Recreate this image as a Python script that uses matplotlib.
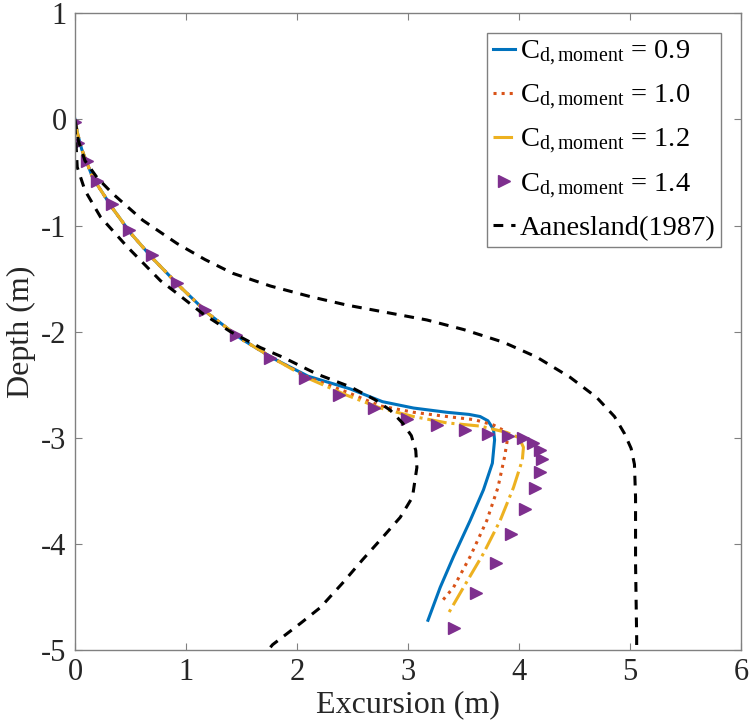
import matplotlib
matplotlib.use("Agg")
import matplotlib.pyplot as plt

plt.rcParams['font.family'] = ['Liberation Serif', 'DejaVu Serif']
plt.rcParams['mathtext.fontset'] = 'custom'
plt.rcParams['mathtext.rm'] = 'Liberation Serif'
plt.rcParams['mathtext.it'] = 'Liberation Serif'
plt.rcParams['axes.unicode_minus'] = False

# Cd = 0.9
x09 = [0, 0.02, 0.06, 0.16, 0.34, 0.50, 0.70, 0.95, 1.20, 1.50, 1.80, 2.10, 2.48, 2.77, 3.05, 3.35, 3.55, 3.65, 3.72, 3.77, 3.78, 3.76, 3.68, 3.56, 3.41, 3.29, 3.18]
d09 = [0, -0.12, -0.28, -0.55, -0.84, -1.07, -1.31, -1.58, -1.83, -2.07, -2.26, -2.42, -2.54, -2.66, -2.72, -2.76, -2.78, -2.80, -2.84, -2.92, -3.02, -3.24, -3.49, -3.78, -4.12, -4.41, -4.72]
# Cd = 1.0
x10 = [0, 0.02, 0.06, 0.16, 0.34, 0.50, 0.70, 0.95, 1.20, 1.50, 1.80, 2.10, 2.45, 2.75, 3.05, 3.35, 3.60, 3.77, 3.86, 3.90, 3.87, 3.81, 3.71, 3.56, 3.41, 3.29]
d10 = [0, -0.12, -0.28, -0.55, -0.84, -1.07, -1.31, -1.58, -1.83, -2.07, -2.26, -2.43, -2.57, -2.70, -2.76, -2.80, -2.83, -2.88, -2.93, -2.99, -3.18, -3.47, -3.78, -4.12, -4.41, -4.56]
# Cd = 1.2
x12 = [0, 0.02, 0.06, 0.16, 0.34, 0.50, 0.70, 0.95, 1.20, 1.50, 1.80, 2.10, 2.45, 2.75, 3.05, 3.35, 3.65, 3.89, 4.00, 4.04, 4.03, 3.95, 3.83, 3.68, 3.50, 3.35]
d12 = [0, -0.12, -0.28, -0.55, -0.84, -1.07, -1.31, -1.58, -1.83, -2.07, -2.26, -2.44, -2.60, -2.72, -2.80, -2.86, -2.89, -2.95, -3.00, -3.09, -3.21, -3.47, -3.78, -4.09, -4.41, -4.68]
# Cd = 1.4 (markers)
x14 = [0.0, 0.03, 0.11, 0.20, 0.33, 0.49, 0.69, 0.92, 1.17, 1.45, 1.76, 2.07, 2.38, 2.69, 2.99, 3.26, 3.51, 3.72, 3.90, 4.04, 4.13, 4.19, 4.21, 4.19, 4.14, 4.05, 3.93, 3.79, 3.61, 3.41]
d14 = [-0.02, -0.22, -0.39, -0.58, -0.80, -1.04, -1.28, -1.54, -1.80, -2.03, -2.25, -2.44, -2.60, -2.72, -2.82, -2.88, -2.93, -2.96, -2.98, -3.00, -3.05, -3.12, -3.20, -3.32, -3.47, -3.67, -3.91, -4.18, -4.46, -4.79]
# Aanesland (1987) envelope: outer and inner
xa_out = [0, 0.03, 0.09, 0.20, 0.34, 0.61, 0.92, 1.17, 1.42, 1.76, 2.12, 2.45, 2.81, 3.17, 3.50, 3.86, 4.16, 4.46, 4.70, 4.86, 4.95, 5.01, 5.04, 5.05, 5.05, 5.06, 5.06]
da_out = [0, -0.20, -0.39, -0.55, -0.70, -0.95, -1.17, -1.32, -1.45, -1.57, -1.67, -1.75, -1.82, -1.89, -1.98, -2.10, -2.24, -2.43, -2.62, -2.80, -2.96, -3.10, -3.25, -3.56, -4.18, -4.88, -5.00]
xa_in = [0, 0.01, 0.02, 0.09, 0.23, 0.47, 0.77, 0.92, 1.15, 1.40, 1.67, 1.87, 2.18, 2.48, 2.70, 2.84, 2.95, 3.03, 3.07, 3.08, 3.04, 2.93, 2.77, 2.59, 2.41, 2.21, 2.03, 1.78, 1.74]
da_in = [-0.05, -0.25, -0.45, -0.67, -0.92, -1.20, -1.52, -1.64, -1.83, -2.00, -2.15, -2.24, -2.40, -2.52, -2.64, -2.74, -2.86, -2.98, -3.12, -3.28, -3.56, -3.75, -3.94, -4.15, -4.37, -4.60, -4.75, -4.95, -5.00]

labels = [r'$\mathregular{C_{d,moment}}$ = 0.9', r'$\mathregular{C_{d,moment}}$ = 1.0',
          r'$\mathregular{C_{d,moment}}$ = 1.2', r'$\mathregular{C_{d,moment}}$ = 1.4',
          'Aanesland(1987)']

fig = plt.figure(figsize=(7.5, 7.26), dpi=100)
ax = fig.add_axes([0.1, 0.1047, 0.888, 0.877])

ax.plot(x09, d09, color='#0072BD', lw=2.2, label=labels[0])
ax.plot(x10, d10, color='#D95319', lw=2.2, ls=':', label=labels[1])
ax.plot(x12, d12, color='#EDB120', lw=2.2, ls='-.', label=labels[2])
ax.plot(x14, d14, color='#7E2F8E', ls='none', marker='>', ms=8, label=labels[3])
ax.plot(xa_out, da_out, color='black', lw=2.2, ls=(0, (3.2, 2.6)), label=labels[4])
ax.plot(xa_in, da_in, color='black', lw=2.2, ls=(0, (3.2, 2.6)))

ax.set_xlim(0, 6)
ax.set_ylim(-5, 1)
ax.set_xticks(range(0, 7))
ax.set_yticks(range(-5, 2))
ax.tick_params(direction='in', top=True, right=True, labelsize=22, length=5,
               color='#808080', pad=6)
for s in ax.spines.values():
    s.set_color('#808080')
    s.set_linewidth(1.0)
ax.set_xlabel('Excursion (m)', fontsize=23, color='#262626', labelpad=2)
ax.set_ylabel('Depth (m)', fontsize=23, color='#262626', labelpad=4)
for t in ax.get_xticklabels() + ax.get_yticklabels():
    t.set_color('#262626')

leg = ax.legend(loc='upper right', fontsize=20.5, handlelength=0.8, handletextpad=0.15,
                borderpad=0.2, labelspacing=0.52, borderaxespad=0.7, fancybox=False,
                framealpha=1, edgecolor='#808080')
leg.get_frame().set_linewidth(1.0)

fig.savefig('out.png', dpi=100)
